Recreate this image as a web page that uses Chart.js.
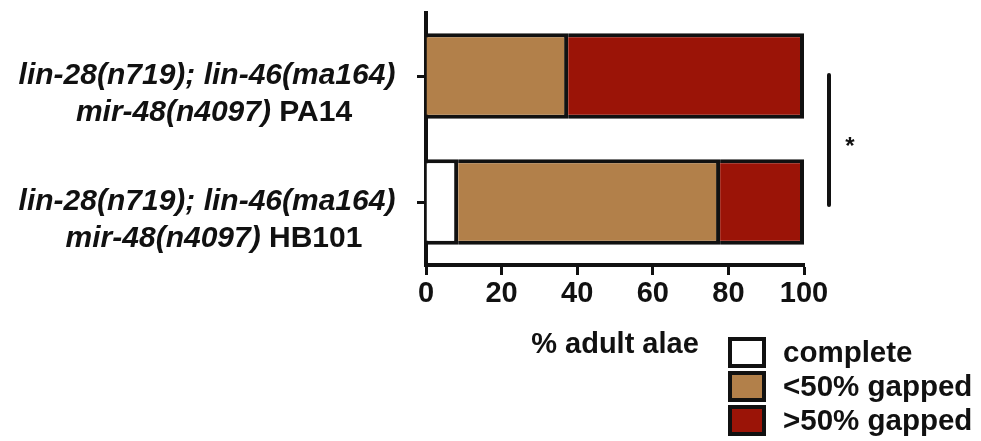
<!DOCTYPE html>
<html>
<head>
<meta charset="utf-8">
<script src="https://cdn.jsdelivr.net/npm/chart.js@4/dist/chart.umd.min.js"></script>
<style>
  html, body { margin: 0; padding: 0; background: #ffffff; }
  #wrap { width: 981px; height: 441px; position: relative; }
</style>
</head>
<body>
<div id="wrap"><canvas id="c" width="981" height="441"></canvas></div>
<script>
// Strains (two lines each: italic genotype, then italic allele + plain bacterial food)
const strainLine1 = ['lin-28(n719); lin-46(ma164)', 'lin-28(n719); lin-46(ma164)'];
const strainAllele = ['mir-48(n4097)', 'mir-48(n4097)'];
const strainFood = ['PA14', 'HB101'];
const categories = ['PA14', 'HB101'];

// % adult alae per phenotype class
const completePct = [0, 8.5];
const gappedLowPct = [37.6, 69.3];
const gappedHighPct = [62.4, 22.2];

const seriesNames = ['complete', '<50% gapped', '>50% gapped'];
const seriesColors = ['#ffffff', '#b2804a', '#9b1407'];

const xTicks = [0, 20, 40, 60, 80, 100];
const axisTitle = '% adult alae';
const sigMark = '*';

const FONT = '"Liberation Sans", Arial, sans-serif';

const decorations = {
  id: 'decorations',
  afterDraw(chart) {
    const ctx = chart.ctx;
    const ys = chart.scales.y;
    const area = chart.chartArea;
    ctx.save();
    ctx.fillStyle = '#111';

    // category labels with mixed italic / upright text
    const italic = 'italic bold 30px ' + FONT;
    const upright = 'bold 30px ' + FONT;
    categories.forEach((c, i) => {
      const y = ys.getPixelForValue(i);
      ctx.textBaseline = 'middle';
      ctx.textAlign = 'left';
      ctx.font = italic;
      const w1 = ctx.measureText(strainLine1[i]).width;
      ctx.fillText(strainLine1[i], 207 - w1 / 2, y);
      const a = strainAllele[i];
      const b = ' ' + strainFood[i];
      const wa = ctx.measureText(a).width;
      ctx.font = upright;
      const wb = ctx.measureText(b).width;
      const x0 = 214 - (wa + wb) / 2;
      ctx.font = italic;
      ctx.fillText(a, x0, y + 37);
      ctx.font = upright;
      ctx.fillText(b, x0 + wa, y + 37);
    });

    // significance bracket
    const bx = area.right + 25;
    const y0 = ys.getPixelForValue(0) - 1;
    const y1 = ys.getPixelForValue(1) + 3;
    ctx.strokeStyle = '#111';
    ctx.lineWidth = 4;
    ctx.lineCap = 'round';
    ctx.beginPath();
    ctx.moveTo(bx, y0);
    ctx.lineTo(bx, y1);
    ctx.stroke();
    ctx.font = 'bold 24px ' + FONT;
    ctx.textAlign = 'center';
    ctx.textBaseline = 'middle';
    ctx.fillText(sigMark, bx + 21, (y0 + y1) / 2 + 7);

    // axis title
    ctx.font = 'bold 29px ' + FONT;
    ctx.textAlign = 'center';
    ctx.textBaseline = 'middle';
    ctx.fillText(axisTitle, (area.left + area.right) / 2, 345);

    // legend
    const lx = 730, ly = 339, bw = 34, bh = 27, step = 34;
    chart.data.datasets.forEach((ds, i) => {
      const top = ly + i * step;
      ctx.fillStyle = ds.backgroundColor;
      ctx.fillRect(lx, top, bw, bh);
      ctx.strokeStyle = '#111';
      ctx.lineWidth = 4;
      ctx.strokeRect(lx, top, bw, bh);
      ctx.fillStyle = '#111';
      ctx.font = 'bold 29.5px ' + FONT;
      ctx.textAlign = 'left';
      ctx.textBaseline = 'middle';
      ctx.fillText(ds.label, 783, top + bh / 2 + 1);
    });
    ctx.restore();
  }
};

const mkSet = (label, data, color) => ({
  label, data,
  backgroundColor: color,
  borderColor: '#111',
  borderWidth: 4,
  borderSkipped: 'start',
  categoryPercentage: 1,
  barPercentage: 0.68
});

new Chart(document.getElementById('c'), {
  type: 'bar',
  data: {
    labels: categories,
    datasets: [
      mkSet(seriesNames[0], completePct, seriesColors[0]),
      mkSet(seriesNames[1], gappedLowPct, seriesColors[1]),
      mkSet(seriesNames[2], gappedHighPct, seriesColors[2])
    ]
  },
  options: {
    indexAxis: 'y',
    responsive: false,
    animation: false,
    layout: { padding: { top: 13, right: 177, left: 0, bottom: 0 } },
    plugins: { legend: { display: false }, tooltip: { enabled: false } },
    scales: {
      x: {
        stacked: true,
        min: 0, max: 100,
        afterBuildTicks(scale) { scale.ticks = xTicks.map(v => ({ value: v })); },
        ticks: { font: { family: FONT, size: 29, weight: 'bold' }, color: '#111', padding: 2 },
        grid: { drawOnChartArea: false, drawTicks: true, tickLength: 10, tickWidth: 3, tickColor: '#111' },
        border: { color: '#111', width: 4 },
        afterFit(scale) { scale.height = 176; }
      },
      y: {
        stacked: true,
        ticks: { display: false },
        grid: { offset: false, drawOnChartArea: false, drawTicks: true, tickLength: 9, tickWidth: 3, tickColor: '#111' },
        border: { color: '#111', width: 4 },
        afterFit(scale) { scale.width = 426; }
      }
    }
  },
  plugins: [decorations]
});
</script>
</body>
</html>
